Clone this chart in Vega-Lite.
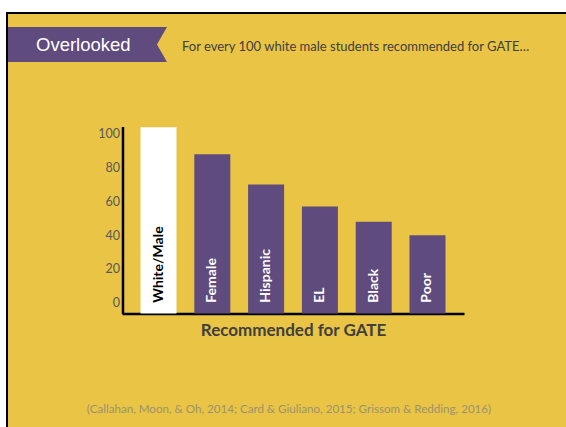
{
  "$schema": "https://vega.github.io/schema/vega-lite/v6.json",
  "autosize": "none",
  "width": 570,
  "height": 420,
  "padding": {"left": 7, "top": 13, "right": 0, "bottom": 0},
  "background": "white",
  "view": {"fill": "#E9C445", "stroke": "#000000", "strokeWidth": 2},
  "title": {
    "text": "For every 100 white male students recommended for GATE…",
    "anchor": "start",
    "frame": "group",
    "orient": "top",
    "offset": -47,
    "dx": 175,
    "baseline": "middle",
    "font": "Lato",
    "fontSize": 13,
    "fontWeight": "normal",
    "color": "#404040"
  },
  "data": {
    "values": [
      {"category": "White/Male", "value": 104},
      {"category": "Female", "value": 88},
      {"category": "Hispanic", "value": 70},
      {"category": "EL", "value": 57},
      {"category": "Black", "value": 48},
      {"category": "Poor", "value": 40}
    ]
  },
  "encoding": {
    "x": {
      "field": "category",
      "type": "nominal",
      "sort": null,
      "scale": {"range": [115, 457], "paddingInner": 0.331, "paddingOuter": 0.344},
      "axis": {
        "labels": false,
        "ticks": false,
        "grid": false,
        "domainColor": "#000000",
        "domainWidth": 2.5,
        "offset": -119.5,
        "title": "Recommended for GATE",
        "titleFont": "Lato",
        "titleFontSize": 17,
        "titleFontWeight": "bold",
        "titleColor": "#404040",
        "titlePadding": 9
      }
    }
  },
  "layer": [
    {
      "mark": {"type": "bar"},
      "encoding": {
        "y": {
          "field": "value",
          "type": "quantitative",
          "scale": {"domain": [-6.4, 104.4], "range": [300.5, 113.5], "nice": false, "zero": false},
          "axis": {
            "values": [0, 20, 40, 60, 80, 100],
            "offset": -115.5,
            "ticks": false,
            "grid": false,
            "domainColor": "#000000",
            "domainWidth": 2.5,
            "labelColor": "#595959",
            "labelFont": "Lato",
            "labelFontSize": 12.5,
            "labelPadding": 3,
            "title": "(Callahan, Moon, & Oh, 2014; Card & Giuliano, 2015; Grissom & Redding, 2016)",
            "titleAngle": 0,
            "titleX": 166,
            "titleY": 396,
            "titleAlign": "center",
            "titleBaseline": "middle",
            "titleFont": "Lato",
            "titleFontSize": 11.6,
            "titleFontWeight": "normal",
            "titleColor": "#9C9270"
          }
        },
        "y2": {"datum": -6.4},
        "color": {
          "field": "category",
          "type": "nominal",
          "scale": {
            "domain": ["White/Male", "Female", "Hispanic", "EL", "Black", "Poor"],
            "range": ["#FFFFFF", "#5F4B7D", "#5F4B7D", "#5F4B7D", "#5F4B7D", "#5F4B7D"]
          },
          "legend": {
            "values": ["Female"],
            "labelExpr": "'Overlooked'",
            "orient": "none",
            "legendX": 63,
            "legendY": 14,
            "title": null,
            "symbolType": "M-4.543,-1L4.543,-1L3.971,0L4.543,1L-4.543,1Z",
            "symbolSize": 1225,
            "symbolStrokeWidth": 0,
            "symbolOpacity": 1,
            "labelColor": "#FFFFFF",
            "labelFont": "Liberation Sans",
            "labelFontSize": 18.5,
            "labelOffset": -69,
            "labelLimit": 0,
            "padding": 0
          }
        }
      }
    },
    {
      "mark": {"type": "text", "angle": 270, "align": "left", "baseline": "middle", "font": "Lato", "fontWeight": "bold", "fontSize": 14},
      "encoding": {
        "y": {"datum": 0},
        "text": {"field": "category"},
        "color": {
          "condition": {"test": "datum.category === 'White/Male'", "value": "#000000"},
          "value": "#FFFFFF"
        }
      }
    }
  ]
}
